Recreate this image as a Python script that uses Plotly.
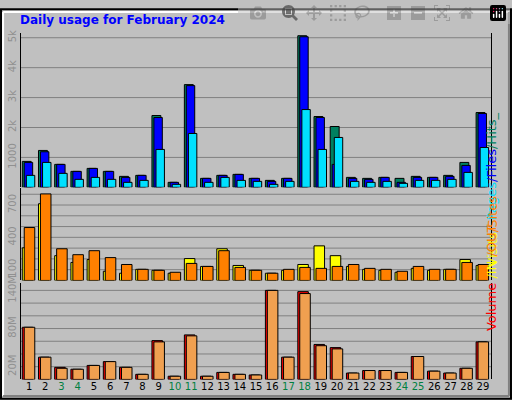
import plotly.graph_objects as go

days = list(range(1, 30))
weekend = [3, 4, 10, 11, 17, 18, 24, 25]

hits = [867, 1233, 767, 533, 633, 533, 367, 400, 2400, 167, 3433, 300, 400, 433, 300, 233, 300, 5067, 2367, 2033, 333, 300, 333, 300, 367, 333, 400, 833, 2500]
files = [833, 1189, 767, 533, 633, 533, 333, 400, 2333, 167, 3400, 300, 400, 433, 300, 200, 300, 5033, 2333, 767, 300, 267, 333, 167, 333, 333, 367, 733, 2467]
pages = [400, 833, 467, 267, 333, 267, 167, 233, 1267, 100, 1800, 167, 333, 233, 200, 100, 200, 2600, 1267, 1667, 200, 167, 200, 133, 233, 233, 267, 500, 1333]
visits = [303, 712, 230, 167, 194, 85, 67, 103, 94, 67, 203, 130, 294, 139, 94, 67, 94, 148, 321, 230, 130, 103, 94, 76, 112, 94, 103, 194, 139]
sites = [491, 803, 294, 239, 276, 212, 148, 103, 94, 76, 158, 130, 276, 121, 94, 67, 103, 121, 112, 130, 148, 112, 103, 85, 130, 103, 103, 167, 148]
volume = [82, 35, 19, 16, 22, 28, 19, 8, 61, 5, 70, 5, 11, 8, 7, 140, 35, 138, 55, 50, 10, 14, 14, 11, 36, 13, 10, 17.5, 59]
kout = [82, 35, 17.5, 16, 22, 28, 19, 8, 59, 5, 68.5, 5, 11, 8, 7, 140, 35, 135, 53, 48, 10, 14, 14, 11, 36, 13, 10, 17.5, 59]

fig = go.Figure()

def bars(y, color, offset, width, axis):
    fig.add_trace(go.Bar(x=days, y=y, marker=dict(color=color, line=dict(color="black", width=1)),
                         offset=offset, width=width, xaxis="x", yaxis=axis, showlegend=False))

bars(hits, "#008060", -0.42, 0.55, "y")
bars(files, "#0000FF", -0.3, 0.52, "y")
bars(pages, "#00E0FF", -0.17, 0.52, "y")
bars(visits, "#FFFF00", -0.42, 0.65, "y2")
bars(sites, "#FF8000", -0.3, 0.65, "y2")
bars(volume, "#FF0000", -0.42, 0.65, "y3")
bars(kout, "#F0A050", -0.3, 0.65, "y3")

tick_font = dict(family="DejaVu Sans", size=10, color="#909090")
def yax(domain, rng, vals, texts):
    return dict(domain=domain, range=rng, tickmode="array", tickvals=vals, ticktext=texts,
                tickangle=-90, tickfont=tick_font, showgrid=False, zeroline=False,
                showline=True, linecolor="black", mirror=True, ticks="", anchor="x")

grid_top = [1000, 2000, 3000, 4000, 5000]
grid_mid = list(range(100, 900, 100))
grid_bot = list(range(20, 160, 20))

fig.update_layout(
    width=512, height=400, margin=dict(l=0, r=0, t=0, b=0),
    paper_bgcolor="#C0C0C0", plot_bgcolor="#C0C0C0", barmode="overlay",
    xaxis=dict(domain=[0.041, 0.959], range=[0.5, 29.5], anchor="y3", tickmode="array",
               tickvals=days,
               ticktext=[f"<span style='color:#008040'>{d}</span>" if d in weekend else str(d) for d in days],
               tickfont=dict(family="DejaVu Sans", size=10, color="black"), ticks="", showgrid=False),
    yaxis=yax([0.5425, 0.9375], [0, 5175], grid_top, ["1000", "2k", "3k", "4k", "5k"]),
    yaxis2=yax([0.305, 0.54], [0, 855], grid_mid, ["100", "", "", "400", "", "", "700", ""]),
    yaxis3=yax([0.0525, 0.2975], [0, 151], grid_bot, ["20M", "", "", "80M", "", "", "140M"]),
)

shapes = []
for ax, vals in (("y", grid_top), ("y2", grid_mid), ("y3", grid_bot)):
    for v in vals:
        shapes.append(dict(type="line", xref="x domain", yref=ax, x0=0, x1=1, y0=v, y1=v,
                           line=dict(color="#808080", width=1), layer="below"))
shapes += [
    dict(type="rect", xref="paper", yref="paper", x0=0.002, y0=0.003, x1=0.998, y1=0.997,
         line=dict(color="black", width=2)),
    dict(type="line", xref="paper", yref="paper", x0=0.006, x1=0.994, y0=0.99, y1=0.99, line=dict(color="white", width=2)),
    dict(type="line", xref="paper", yref="paper", x0=0.006, x1=0.006, y0=0.01, y1=0.99, line=dict(color="white", width=2)),
    dict(type="line", xref="paper", yref="paper", x0=0.006, x1=0.994, y0=0.01, y1=0.01, line=dict(color="#808080", width=2)),
    dict(type="line", xref="paper", yref="paper", x0=0.994, x1=0.994, y0=0.01, y1=0.99, line=dict(color="#808080", width=2)),
]
fig.update_layout(shapes=shapes)

side_font = dict(family="DejaVu Sans", size=13)
fig.add_annotation(text="Daily usage for February 2024", xref="paper", yref="paper", x=0.035, y=0.992,
                   xanchor="left", yanchor="top", showarrow=False,
                   font=dict(family="DejaVu Sans", size=12, color="#0000FF", weight="bold"))
fig.add_annotation(text="<span style='color:#00E0FF'>Pages</span><span style='color:#0000FF'>/Files</span><span style='color:#008060'>/Hits_</span>",
                   xref="paper", yref="paper", x=0.98, y=0.74, textangle=-90, showarrow=False, font=side_font)
fig.add_annotation(text="<span style='color:#FFFF00'>Visits</span><span style='color:#FF8000'>/Sites</span>",
                   xref="paper", yref="paper", x=0.98, y=0.43, textangle=-90, showarrow=False, font=side_font)
fig.add_annotation(text="<span style='color:#FF0000'>Volume</span> <span style='color:#FFFF00'>/IN</span> <span style='color:#FF8000'>/OUT</span>",
                   xref="paper", yref="paper", x=0.98, y=0.17, textangle=-90, showarrow=False, font=side_font)

fig.write_html("out.html")

# drop the default body margin so the figure sits at the window corner
with open("out.html") as f:
    page = f.read()
page = page.replace("<head>", "<head><style>body{margin:0;overflow:hidden}</style>", 1)
with open("out.html", "w") as f:
    f.write(page)
